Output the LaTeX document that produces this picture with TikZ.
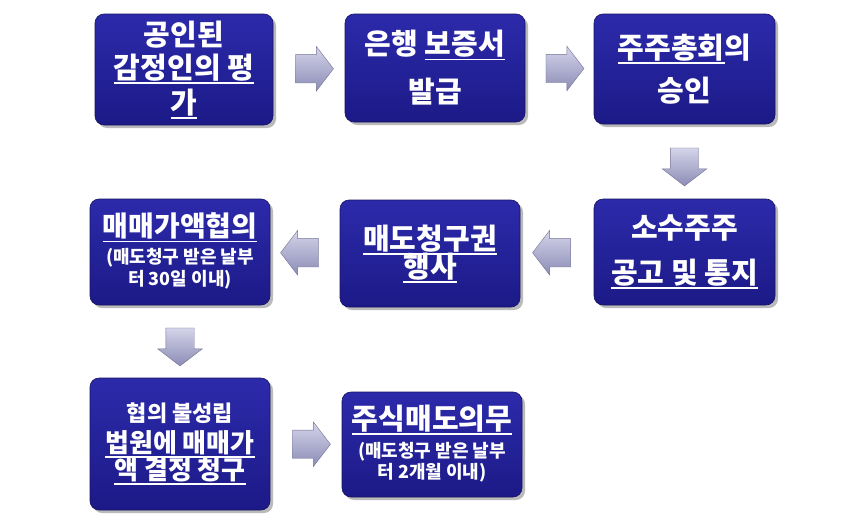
\documentclass[tikz,border=0pt]{standalone}
\usepackage{fontspec}
\setmainfont{Noto Sans CJK KR}
\usetikzlibrary{shapes.arrows, shadows, calc}

\definecolor{boxtop}{RGB}{44,42,170}
\definecolor{boxbot}{RGB}{28,26,135}
\definecolor{boxedge}{RGB}{22,20,95}
\definecolor{arrowtop}{RGB}{212,212,234}
\definecolor{arrowbot}{RGB}{140,140,182}
\definecolor{arrowedge}{RGB}{115,115,150}

\newcommand{\bigtxt}{\fontsize{29}{34}\selectfont\bfseries\lineskiplimit=-50pt}
\newcommand{\smalltxt}{\fontsize{18}{19.5}\selectfont\lineskiplimit=0pt}
\newcommand{\undl}[1]{\setbox0\hbox{#1}\rlap{\rule[-5.5pt]{\wd0}{1.8pt}}\box0}

\begin{document}
\begin{tikzpicture}[x=1pt, y=-1pt,
  stepbox/.style={draw=boxedge, line width=0.6pt, rounded corners=9pt, top color=boxtop, bottom color=boxbot,
    minimum width=180pt, minimum height=108pt, align=center, text=white, font=\bigtxt, inner sep=2pt,
    drop shadow={shadow xshift=3pt, shadow yshift=-3pt, fill=black!45, opacity=0.6}},
  blockarrow/.style={single arrow, draw=arrowedge, line width=0.4pt, top color=arrowtop, bottom color=arrowbot,
    minimum height=38pt, minimum width=44pt, inner xsep=0pt, inner ysep=14pt,
    single arrow head extend=8pt, single arrow tip angle=105},
  blockdown/.style={blockarrow, shape border rotate=270, inner xsep=14pt, inner ysep=0pt}]
  \fill[white] (0,0) rectangle (866,522);
  \useasboundingbox (0,0) rectangle (866,522);

  % top row
  \node[stepbox, minimum width=178pt, minimum height=111pt] (pingga) at (184,69.5)
    {공인된\\[-1pt]\undl{감정인의 평}\\[1pt]\undl{가}};
  \node[stepbox] (bojeung) at (435,68) {은행 \undl{보증서}\\[14pt]발급};
  \node[stepbox, minimum width=181pt, minimum height=110pt] (chonghoe) at (684.5,69)
    {\undl{주주총회}의\\[9pt]승인};

  % middle row
  \node[stepbox, minimum width=181pt, minimum height=106pt] (gongo) at (684.5,252)
    {소수주주\\[11pt]\undl{공고 및 통지}};
  \node[stepbox, minimum height=107pt] (cheonggu) at (430,253.5) {\undl{매도청구권}\\[-6pt]\undl{행사}};
  \node[stepbox, minimum height=106pt, font=\bigtxt\fontsize{28}{34}\selectfont] (hyeopui) at (180,252)
    {\undl{매매가액협의}\\[-7pt]{\smalltxt\begin{tabular}[t]{@{}c@{}}(매도청구 받은 날부\\터 30일 이내)\end{tabular}}};

  % bottom row
  \node[stepbox, minimum height=132pt, font=\bigtxt\fontsize{26}{30}\selectfont] (beobwon) at (180,444)
    {{\fontsize{22}{26}\selectfont 협의 불성립}\\[1pt]\undl{법원에 매매가}\\[-3pt]\undl{액 결정 청구}};
  \node[stepbox, minimum height=105pt] (uimu) at (432,444.5)
    {\undl{주식매도의무}\\[-6.5pt]{\smalltxt\begin{tabular}[t]{@{}c@{}}(매도청구 받은 날부\\터 2개월 이내)\end{tabular}}};

  % arrows
  \node[blockarrow] (a12) at ($(pingga.east)!0.5!(bojeung.west)$) {};
  \node[blockarrow] (a23) at ($(bojeung.east)!0.5!(chonghoe.west)$) {};
  \node[blockdown] (a36) at ($(chonghoe.south)!0.5!(gongo.north)$) {};
  \node[blockarrow, shape border rotate=180] (a65) at ($(gongo.west)!0.5!(cheonggu.east)$) {};
  \node[blockarrow, shape border rotate=180] (a54) at ($(cheonggu.west)!0.5!(hyeopui.east)$) {};
  \node[blockdown] (a47) at ($(hyeopui.south)!0.5!(beobwon.north)$) {};
  \node[blockarrow] (a78) at ($(beobwon.east)!0.5!(uimu.west)$) {};
\end{tikzpicture}
\end{document}
